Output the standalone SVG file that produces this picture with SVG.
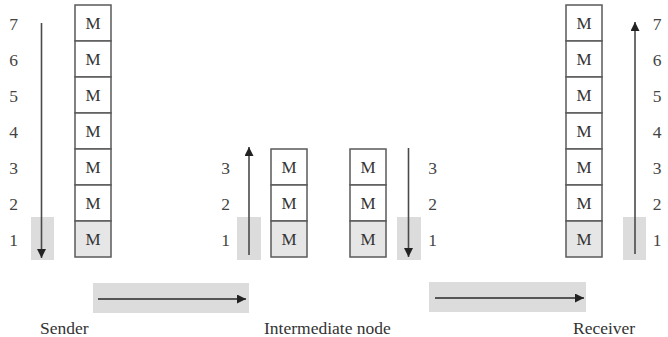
<svg xmlns="http://www.w3.org/2000/svg" width="668" height="337" viewBox="0 0 668 337" font-family="'Liberation Serif', 'Times New Roman', 'DejaVu Serif', serif">
  <style>
    text { font-family: "Liberation Serif", "Times New Roman", "DejaVu Serif", serif; }
    .cell { fill: #ffffff; stroke: #5a5a5a; stroke-width: 1.5; }
    .cell.base { fill: #e6e6e6; }
    .m { font-size: 17px; fill: #333; text-anchor: middle; }
    .num { font-size: 17.5px; fill: #444; text-anchor: middle; }
    .label { font-size: 17.5px; fill: #333; }
    .band { fill: #dcdcdc; }
    .flow { stroke: #4a4a4a; stroke-width: 1.6; fill: none; marker-end: url(#head); }
    .hflow { stroke: #555; stroke-width: 2; fill: none; marker-end: url(#head); }
  </style>
  <defs>
    <marker id="head" viewBox="0 0 10 10" refX="10" refY="5" markerWidth="10" markerHeight="9" markerUnits="userSpaceOnUse" orient="auto">
      <path d="M0,0 L10,5 L0,10 Z" fill="#222"/>
    </marker>
  </defs>

  <rect width="668" height="337" fill="#ffffff"/>

  <!-- Sender: 7-layer stack, data goes down -->
  <g id="sender">
    <rect class="band" x="31" y="217" width="23" height="43"/>
    <text class="num" x="13.5" y="30">7</text>
    <text class="num" x="13.5" y="66">6</text>
    <text class="num" x="13.5" y="102">5</text>
    <text class="num" x="13.5" y="138">4</text>
    <text class="num" x="13.5" y="174">3</text>
    <text class="num" x="13.5" y="210">2</text>
    <text class="num" x="13.5" y="246">1</text>
    <rect class="cell" x="75" y="5" width="36" height="36"/>
    <rect class="cell" x="75" y="41" width="36" height="36"/>
    <rect class="cell" x="75" y="77" width="36" height="36"/>
    <rect class="cell" x="75" y="113" width="36" height="36"/>
    <rect class="cell" x="75" y="149" width="36" height="36"/>
    <rect class="cell" x="75" y="185" width="36" height="36"/>
    <rect class="cell base" x="75" y="221" width="36" height="36"/>
    <text class="m" x="93" y="29">M</text>
    <text class="m" x="93" y="65">M</text>
    <text class="m" x="93" y="101">M</text>
    <text class="m" x="93" y="137">M</text>
    <text class="m" x="93" y="173">M</text>
    <text class="m" x="93" y="209">M</text>
    <text class="m" x="93" y="245">M</text>
    <text class="label" x="40" y="334">Sender</text>
  </g>

  <!-- Intermediate node: 3-layer stack on each side -->
  <g id="intermediate">
    <rect class="band" x="237" y="217" width="24" height="43"/>
    <rect class="band" x="397" y="217" width="24" height="43"/>
    <text class="num" x="225.5" y="174">3</text>
    <text class="num" x="225.5" y="210">2</text>
    <text class="num" x="225.5" y="246">1</text>
    <rect class="cell" x="271" y="149" width="36" height="36"/>
    <rect class="cell" x="271" y="185" width="36" height="36"/>
    <rect class="cell base" x="271" y="221" width="36" height="36"/>
    <text class="m" x="289" y="173">M</text>
    <text class="m" x="289" y="209">M</text>
    <text class="m" x="289" y="245">M</text>
    <rect class="cell" x="350" y="149" width="36" height="36"/>
    <rect class="cell" x="350" y="185" width="36" height="36"/>
    <rect class="cell base" x="350" y="221" width="36" height="36"/>
    <text class="m" x="368" y="173">M</text>
    <text class="m" x="368" y="209">M</text>
    <text class="m" x="368" y="245">M</text>
    <text class="num" x="432.5" y="174">3</text>
    <text class="num" x="432.5" y="210">2</text>
    <text class="num" x="432.5" y="246">1</text>
    <text class="label" x="264" y="334">Intermediate node</text>
  </g>

  <!-- Receiver: 7-layer stack, data goes up -->
  <g id="receiver">
    <rect class="band" x="623" y="217" width="23" height="43"/>
    <rect class="cell" x="566" y="5" width="36" height="36"/>
    <rect class="cell" x="566" y="41" width="36" height="36"/>
    <rect class="cell" x="566" y="77" width="36" height="36"/>
    <rect class="cell" x="566" y="113" width="36" height="36"/>
    <rect class="cell" x="566" y="149" width="36" height="36"/>
    <rect class="cell" x="566" y="185" width="36" height="36"/>
    <rect class="cell base" x="566" y="221" width="36" height="36"/>
    <text class="m" x="584" y="29">M</text>
    <text class="m" x="584" y="65">M</text>
    <text class="m" x="584" y="101">M</text>
    <text class="m" x="584" y="137">M</text>
    <text class="m" x="584" y="173">M</text>
    <text class="m" x="584" y="209">M</text>
    <text class="m" x="584" y="245">M</text>
    <text class="num" x="657" y="30">7</text>
    <text class="num" x="657" y="66">6</text>
    <text class="num" x="657" y="102">5</text>
    <text class="num" x="657" y="138">4</text>
    <text class="num" x="657" y="174">3</text>
    <text class="num" x="657" y="210">2</text>
    <text class="num" x="657" y="246">1</text>
    <text class="label" x="573" y="334">Receiver</text>
  </g>

  <!-- Links between the nodes -->
  <g id="link-1">
    <rect class="band" x="93" y="283" width="156" height="30"/>
  </g>
  <g id="link-2">
    <rect class="band" x="429" y="282" width="157" height="30"/>
  </g>

  <!-- Connectors -->
  <g id="connectors">
    <line class="flow" x1="41.5" y1="23" x2="41.5" y2="258"/>
    <line class="flow" x1="249" y1="255" x2="249" y2="147"/>
    <line class="flow" x1="408.5" y1="148" x2="408.5" y2="257"/>
    <line class="flow" x1="635" y1="254" x2="635" y2="22"/>
    <line class="hflow" x1="98" y1="299" x2="246" y2="299"/>
    <line class="hflow" x1="435" y1="298" x2="584" y2="298"/>
  </g>
</svg>
